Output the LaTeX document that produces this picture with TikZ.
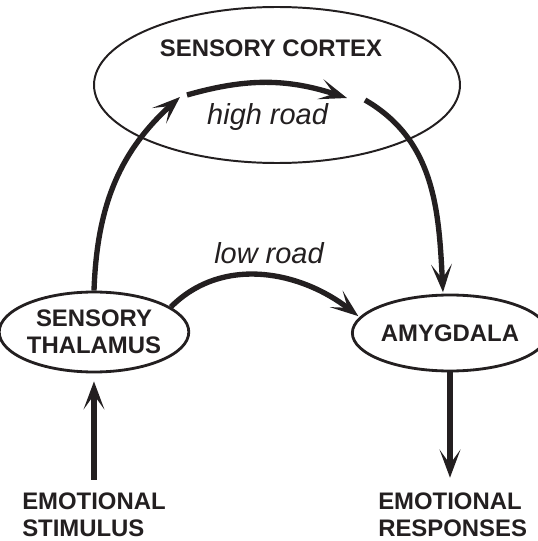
\documentclass[tikz,border=0pt]{standalone}
\usepackage{fontspec}
\setmainfont{Liberation Sans}
\usepackage{xcolor}
\usetikzlibrary{arrows.meta,shapes.geometric}
\definecolor{ink}{HTML}{231F20}
\tikzset{
  region/.style={draw=ink,ellipse,line width=2pt,inner sep=0pt,
                 align=center,font=\fontsize{17}{19}\selectfont\bfseries,
                 text=ink},
  caps/.style={font=\fontsize{17}{19}\selectfont\bfseries,text=ink,
               align=center},
  outlbl/.style={caps,align=left,inner sep=0pt,anchor=west},
  roadlbl/.style={font=\fontsize{20.6}{24}\selectfont\itshape,text=ink,
                  anchor=base},
  road/.style={-{Stealth[length=7mm,width=5.2mm,inset=3.6mm]},
               line width=3.8pt,draw=ink}
}

\begin{document}
\begin{tikzpicture}[x=1cm,y=1cm]
    \path[use as bounding box] (0,0) rectangle (13.45,13.525);
    \node[region,line width=1.4pt,minimum width=9.15cm,minimum height=3.9cm]
      (cortex) at (6.925,11.4) {};
    \node[caps] (cortexlbl) at (6.775,12.31) {SENSORY CORTEX};
    \node[region,minimum width=4.05cm,minimum height=2.0cm] (thal)
      at (2.35,5.225) {SENSORY\\THALAMUS};
    \node[region,minimum width=3.65cm,minimum height=1.9cm] (amyg)
      at (11.25,5.2) {AMYGDALA};
    \node[outlbl] (stim) at (0.55,0.65) {EMOTIONAL\\STIMULUS};
    \node[outlbl] (resp) at (9.45,0.65) {EMOTIONAL\\RESPONSES};
    \node[roadlbl] (highlbl) at (6.69,10.4) {high road};
    \node[roadlbl] (lowlbl) at (6.725,6.95) {low road};

    % high road pieces
    \coordinate (hrin) at (4.5,11.1);
    \coordinate (hra) at (4.675,11.15);
    \coordinate (hrb) at (8.675,11.075);
    \coordinate (hrout) at (9.125,11.025);
    \draw[road] (thal.north) to[out=88,in=222] (hrin);
    \draw[road] (hra) to[bend left=17] (hrb);
    \draw[road,shorten >=1pt] (hrout) to[out=-30,in=93] (amyg.100);
    % low road
    \draw[road,shorten >=1pt] (thal.18) to[out=45,in=142] (amyg.170);

    \draw[road,shorten <=0.33cm,shorten >=0.2cm]
      (stim.north) -- (stim.north |- thal.south);
    \draw[road,shorten >=0.38cm] (amyg.south) -- (amyg.south |- resp.north);
  \end{tikzpicture}
\end{document}
